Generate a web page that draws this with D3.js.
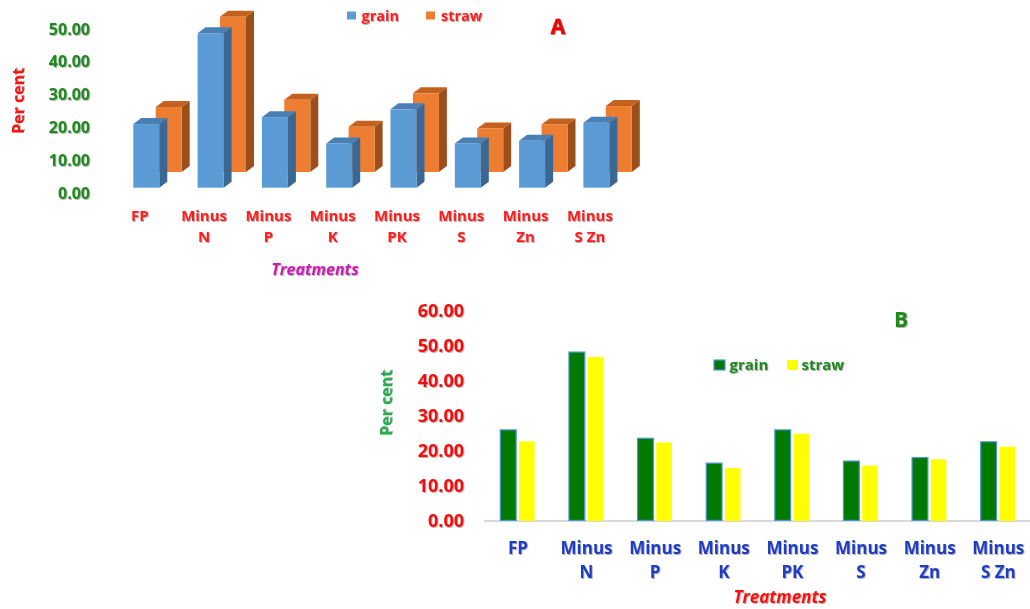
<!DOCTYPE html>
<html>
<head>
<meta charset="utf-8">
<script src="https://cdn.jsdelivr.net/npm/d3@7"></script>
<style>
  html, body { margin: 0; padding: 0; background: #fff; }
  svg { display: block; }
  text { font-family: "Open Sans", sans-serif; font-weight: 700; }
</style>
</head>
<body>
<svg id="chart" width="1030" height="609"></svg>
<script>
// ---------- DATA ----------
const categories = ["FP", "Minus N", "Minus P", "Minus K", "Minus PK", "Minus S", "Minus Zn", "Minus S Zn"];
const labelLine1 = ["FP", "Minus", "Minus", "Minus", "Minus", "Minus", "Minus", "Minus"];
const labelLine2 = ["", "N", "P", "K", "PK", "S", "Zn", "S Zn"];
// Chart A (3D)
const grainA = [19.4, 47.1, 21.5, 13.5, 23.9, 13.5, 14.3, 19.8];
const strawA = [19.8, 47.3, 22.0, 13.8, 24.0, 13.3, 14.5, 20.1];
const ticksA = [0, 10, 20, 30, 40, 50];
// Chart B
const grainB = [26.0, 48.2, 23.6, 16.5, 26.0, 17.1, 18.1, 22.6];
const strawB = [22.7, 46.8, 22.4, 15.1, 24.9, 15.8, 17.6, 21.2];
const ticksB = [0, 10, 20, 30, 40, 50, 60];
const seriesNames = ["grain", "straw"];

const svg = d3.select("#chart");
const defs = svg.append("defs");
const sh = defs.append("filter").attr("id", "sh").attr("x", "-20%").attr("y", "-20%").attr("width", "140%").attr("height", "140%");
sh.append("feDropShadow").attr("dx", 1).attr("dy", 1).attr("stdDeviation", 0.7)
  .attr("flood-color", "#555").attr("flood-opacity", 0.45);

// =============== CHART A ===============
const A = svg.append("g");
const yA = d3.scaleLinear().domain([0, 50]).range([193, 29]);
const xA = d3.scalePoint().domain(categories).range([133.3, 583.4]);
const frontW = 26, dX = 8, dY = 6;
const grainBaseA = 187.7, strawBaseA = 172, strawOffX = 22.4;
const hA = v => yA(0) - yA(v);

function bar3d(g, x, base, h, cFront, cSide, cTop) {
  const top = base - h;
  g.append("path").attr("d", `M${x + frontW},${base} L${x + frontW + dX},${base - dY} L${x + frontW + dX},${top - dY} L${x + frontW},${top} Z`).attr("fill", cSide);
  g.append("path").attr("d", `M${x},${top} L${x + dX},${top - dY} L${x + frontW + dX},${top - dY} L${x + frontW},${top} Z`).attr("fill", cTop);
  g.append("rect").attr("x", x).attr("y", top).attr("width", frontW).attr("height", h).attr("fill", cFront);
}

categories.forEach((c, i) => {
  bar3d(A, xA(c) + strawOffX, strawBaseA, hA(strawA[i]), "#ed7d31", "#9c4f1b", "#c4611e");
});
categories.forEach((c, i) => {
  bar3d(A, xA(c), grainBaseA, hA(grainA[i]), "#5b9bd5", "#3a6892", "#4a7fb4");
});

// y tick labels
A.selectAll(".tA").data(ticksA).enter().append("text")
  .attr("x", 90).attr("y", d => yA(d)).attr("dy", "0.35em")
  .attr("text-anchor", "end").attr("font-size", 16).attr("fill", "#1e8a1e")
  .attr("filter", "url(#sh)")
  .text(d => d3.format(".2f")(d));

// x labels
categories.forEach((c, i) => {
  const cx = xA(c) + 6.5;
  A.append("text").attr("x", cx).attr("y", 216).attr("dy", "0.35em").attr("text-anchor", "middle")
    .attr("font-size", 15).attr("fill", "#ff1a1a").attr("filter", "url(#sh)").text(labelLine1[i]);
  A.append("text").attr("x", cx).attr("y", 236.5).attr("dy", "0.35em").attr("text-anchor", "middle")
    .attr("font-size", 15).attr("fill", "#ff1a1a").attr("filter", "url(#sh)").text(labelLine2[i]);
});

A.append("text").attr("x", 315).attr("y", 269).attr("dy", "0.35em").attr("text-anchor", "middle")
  .attr("font-size", 16).attr("font-style", "italic").attr("fill", "#cc1ab4").attr("filter", "url(#sh)").text("Treatments");

A.append("text").attr("transform", "translate(18,101) rotate(-90)").attr("dy", "0.35em").attr("text-anchor", "middle")
  .attr("font-size", 16).attr("fill", "#ff1010").attr("filter", "url(#sh)").text("Per cent");

A.append("text").attr("x", 558).attr("y", 26).attr("dy", "0.36em").attr("text-anchor", "middle")
  .attr("font-size", 21).attr("fill", "#ff0000").attr("stroke", "#b00000").attr("stroke-width", 0.6)
  .attr("filter", "url(#sh)").text("A");

// legend A
const legA = [{ x: 347, tx: 361.5, col: "#5b9bd5" }, { x: 426, tx: 441, col: "#ed7d31" }];
legA.forEach((l, i) => {
  A.append("rect").attr("x", l.x).attr("y", 11.5).attr("width", 9).attr("height", 8).attr("fill", l.col);
  A.append("text").attr("x", l.tx).attr("y", 15.5).attr("dy", "0.35em").attr("font-size", 14.5)
    .attr("fill", "#ff1a1a").attr("filter", "url(#sh)").text(seriesNames[i]);
});

// =============== CHART B ===============
const B = svg.append("g");
const yB = d3.scaleLinear().domain([0, 60]).range([521, 310.7]);
const xB = d3.scaleBand().domain(categories).range([483.6, 1032.6]).paddingInner(0.47).paddingOuter(0.235);
const x1 = d3.scaleBand().domain(seriesNames).range([0, xB.bandwidth()]).paddingInner(0.12);

B.append("line").attr("x1", 484).attr("x2", 1030).attr("y1", 521).attr("y2", 521)
  .attr("stroke", "#d9d9d9").attr("stroke-width", 2);

categories.forEach((c, i) => {
  B.append("rect").attr("x", xB(c) + x1("grain") + 0.6).attr("y", yB(grainB[i]))
    .attr("width", x1.bandwidth() - 1.2).attr("height", yB(0) - yB(grainB[i]) - 0.6)
    .attr("fill", "#007a00").attr("stroke", "#4f94d9").attr("stroke-width", 1.2);
  B.append("rect").attr("x", xB(c) + x1("straw")).attr("y", yB(strawB[i]))
    .attr("width", x1.bandwidth() - 1.5).attr("height", yB(0) - yB(strawB[i]))
    .attr("fill", "#ffff00");
});

B.selectAll(".tB").data(ticksB).enter().append("text")
  .attr("x", 464).attr("y", d => yB(d)).attr("dy", "0.35em")
  .attr("text-anchor", "end").attr("font-size", 18).attr("fill", "#f01010")
  .attr("filter", "url(#sh)")
  .text(d => d3.format(".2f")(d));

categories.forEach((c, i) => {
  const cx = xB(c) + xB.bandwidth() / 2;
  B.append("text").attr("x", cx).attr("y", 547.7).attr("dy", "0.35em").attr("text-anchor", "middle")
    .attr("font-size", 17).attr("fill", "#1f3cc4").attr("filter", "url(#sh)").text(labelLine1[i]);
  B.append("text").attr("x", cx).attr("y", 572).attr("dy", "0.35em").attr("text-anchor", "middle")
    .attr("font-size", 17).attr("fill", "#1f3cc4").attr("filter", "url(#sh)").text(labelLine2[i]);
});

B.append("text").attr("x", 780).attr("y", 597).attr("dy", "0.35em").attr("text-anchor", "middle")
  .attr("font-size", 17).attr("font-style", "italic").attr("fill", "#ff1010").attr("filter", "url(#sh)").text("Treatments");

B.append("text").attr("transform", "translate(386,403) rotate(-90)").attr("dy", "0.35em").attr("text-anchor", "middle")
  .attr("font-size", 16).attr("fill", "#1faf4b").attr("filter", "url(#sh)").text("Per cent");

B.append("text").attr("x", 901).attr("y", 319).attr("dy", "0.36em").attr("text-anchor", "middle")
  .attr("font-size", 21).attr("fill", "#1a8a1a").attr("filter", "url(#sh)").text("B");

const legB = [{ x: 714, tx: 729.5, col: "#007a00", st: "#4f94d9" }, { x: 787, tx: 801.5, col: "#ffff00", st: "none" }];
legB.forEach((l, i) => {
  B.append("rect").attr("x", l.x).attr("y", 360).attr("width", 11).attr("height", 10)
    .attr("fill", l.col).attr("stroke", l.st).attr("stroke-width", 1.2);
  B.append("text").attr("x", l.tx).attr("y", 365).attr("dy", "0.35em").attr("font-size", 15)
    .attr("fill", "#1e8a1e").attr("filter", "url(#sh)").text(seriesNames[i]);
});
</script>
</body>
</html>
